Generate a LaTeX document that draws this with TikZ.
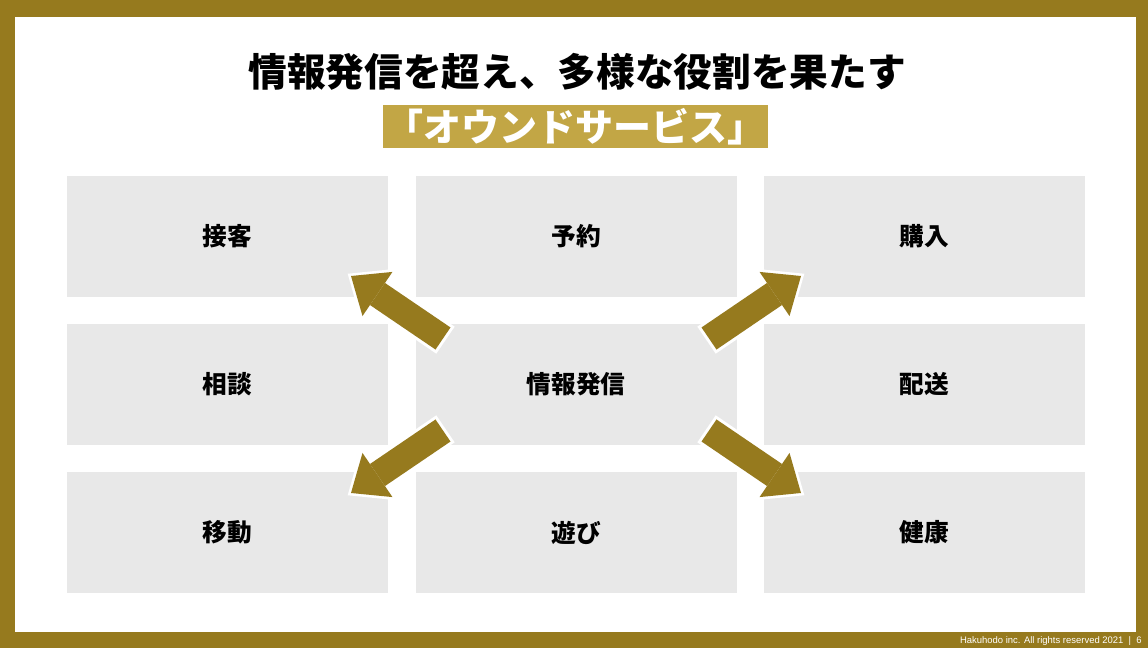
\documentclass[tikz,border=0pt]{standalone}
\usepackage{fontspec}
\setmainfont{Liberation Sans}
\newfontfamily\jpfont{Noto Sans CJK JP}
\usetikzlibrary{arrows.meta,calc}
\definecolor{waku}{HTML}{967A1E}
\definecolor{obi}{HTML}{C2A645}
\definecolor{hako}{HTML}{E8E8E8}
\tikzset{
  tile/.style={fill=hako, minimum width=240.75pt, minimum height=90.75pt,
    inner sep=0pt, font=\jpfont\bfseries\fontsize{18.5}{20}\selectfont},
  fatarrow/.style={draw=waku, line width=20pt,
    -{Triangle[length=24pt 0 0, width=40pt 0 0, line width=0pt]},
    preaction={draw=white, line width=24.5pt, shorten >=-3pt, shorten <=-2.25pt,
      -{Triangle[length=28pt 0 0, width=47pt 0 0, line width=0pt]}}}
}
\begin{document}
\begin{tikzpicture}[x=0.75pt, y=-0.75pt]
  % Çerçeve: altın kenar + beyaz zemin
  \fill[waku] (0,0) rectangle (1148,648);
  \fill[white] (15,17) rectangle (1136,632);
  \useasboundingbox (0,0) rectangle (1148,648);

  % Başlık ve bant
  \node[font=\jpfont\bfseries\fontsize{29}{30}\selectfont] (baslik) at (577,72)
    {情報発信を超え、多様な役割を果たす};
  \node[fill=obi, text=white, minimum width=288.75pt, minimum height=32.25pt, inner sep=0pt,
    font=\jpfont\bfseries\fontsize{28.5}{30}\selectfont] (obi) at (575.5,126.5)
    {「オウンドサービス」};

  % 3x3 kutular
  \foreach \nm/\cx/\cy/\txt in {sekkyaku/227.5/236.5/接客, yoyaku/576/236.5/予約, konyu/924.5/236.5/購入,
      sodan/227.5/384.5/相談, joho/576/384.5/情報発信, haiso/924.5/384.5/配送,
      ido/227.5/532.5/移動, asobi/576/532.5/遊び, kenko/924.5/532.5/健康}
    \node[tile] (\nm) at (\cx,\cy) {\txt};

  % Merkezden dört köşeye oklar
  \foreach \k/\sx/\sy in {ul/-1/-1, ur/1/-1, dl/-1/1, dr/1/1} {
    \coordinate (\k-kuyruk) at ($(joho)+(\sx*133,\sy*46)$);
    \coordinate (\k-uc) at ($(joho)+(\sx*225,\sy*108.5)$);
    \draw[fatarrow] (\k-kuyruk) -- (\k-uc);
  }

  % Alt bilgi
  \node[anchor=base east, text=white, font=\fontsize{7.1}{8}\selectfont, inner sep=0pt] (altbilgi)
    at (1142,643) {Hakuhodo inc. All rights reserved 2021 \ |\ \ 6};
\end{tikzpicture}
\end{document}
